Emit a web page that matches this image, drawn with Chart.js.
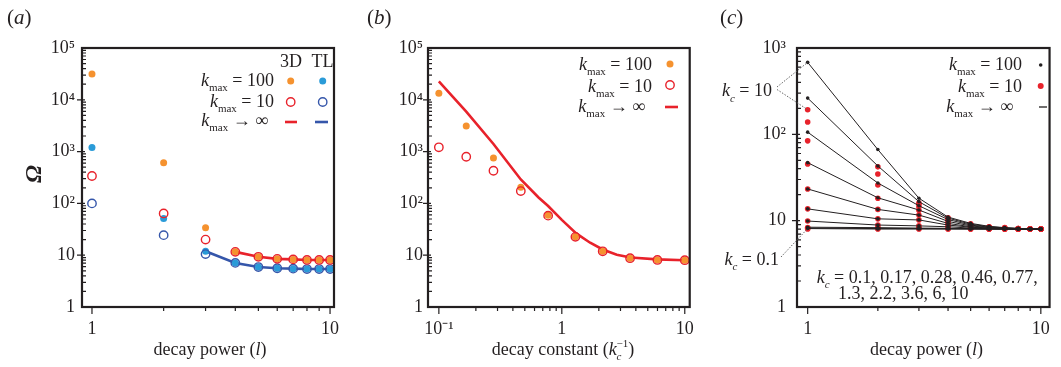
<!DOCTYPE html>
<html>
<head>
<meta charset="utf-8">
<script src="https://cdn.jsdelivr.net/npm/chart.js@4.4.0/dist/chart.umd.min.js"></script>
<style>
body{margin:0;background:#fff;width:1061px;height:367px;position:relative;overflow:hidden}
canvas{position:absolute;top:0}
</style>
</head>
<body>
<canvas id="chartA" width="360" height="367" style="left:0"></canvas>
<canvas id="chartB" width="345" height="367" style="left:360px"></canvas>
<canvas id="chartC" width="356" height="367" style="left:705px"></canvas>
<script>
// (a) omega vs decay power l
const powerL = [1, 2, 3, 4, 5, 6, 7, 8, 9, 10];
const a3d100 = [31600, 610, 34, 11.6, 9.3, 8.5, 8.3, 8.1, 8.1, 8.1];
const a3d10 = [338, 64, 20, 11.6, 9.3, 8.5, 8.3, 8.1, 8.1, 8.1];
const aTL100 = [1200, 51, 11.9, 7.1, 5.9, 5.6, 5.5, 5.4, 5.4, 5.4];
const aTL10 = [100, 24.4, 10.5, 7.1, 5.9, 5.6, 5.5, 5.4, 5.4, 5.4];
const a3dInfL = [4, 5, 6, 7, 8, 9, 10];
const a3dInf = [11.6, 9.3, 8.5, 8.3, 8.1, 8.1, 8.1];
const aTLInfL = [3, 4, 5, 6, 7, 8, 9, 10];
const aTLInf = [11.9, 7.1, 5.9, 5.6, 5.5, 5.4, 5.4, 5.4];

// (b) omega vs decay constant kc^-1
const bInvKc = [0.1, 0.167, 0.278, 0.464, 0.774, 1.29, 2.15, 3.59, 5.99, 10];
const b100 = [13400, 3130, 752, 204, 59, 22.6, 11.9, 8.75, 8.1, 8.0];
const b10 = [1210, 796, 427, 173, 58, 22.6, 11.9, 8.75, 8.1, 8.0];
const bCurveX = [0.1, 0.167, 0.278, 0.464, 0.647, 0.774, 1.0, 1.31, 1.7, 2.15, 2.8, 3.63, 5.96, 10];
const bCurveY = [22600, 5900, 1400, 290, 130, 89, 48, 26.3, 17.4, 12.9, 10.2, 9.0, 8.3, 8.0];

// (c) one line per kc, kmax -> inf (line) / 100 (black) / 10 (red)
const kcLabels = ['0.1', '0.17', '0.28', '0.46', '0.77', '1.3', '2.2', '3.6', '6', '10'];
const c100_0p1 = [8.1, 8.0, 8.0, 8.0, 8.0, 8.0, 8.0, 8.0, 8.0, 8.0];
const c100_0p17 = [8.2, 8.1, 8.1, 8.05, 8.0, 8.0, 8.0, 8.0, 8.0, 8.0];
const c100_0p28 = [8.4, 8.3, 8.2, 8.15, 8.1, 8.0, 8.0, 8.0, 8.0, 8.0];
const c100_0p46 = [9.9, 8.9, 8.7, 8.5, 8.2, 8.1, 8.0, 8.0, 8.0, 8.0];
const c100_0p77 = [13.7, 10.5, 10.2, 8.9, 8.4, 8.15, 8.05, 8.0, 8.0, 8.0];
const c100_1p3 = [23.3, 13.5, 11.6, 9.3, 8.5, 8.2, 8.1, 8.0, 8.0, 8.0];
const c100_2p2 = [47, 18.4, 13.3, 9.8, 8.7, 8.3, 8.15, 8.05, 8.0, 8.0];
const c100_3p6 = [106, 27.3, 14.9, 10.3, 8.9, 8.4, 8.2, 8.1, 8.0, 8.0];
const c100_6 = [263, 43, 16.6, 10.7, 9.1, 8.5, 8.25, 8.1, 8.05, 8.0];
const c100_10 = [682, 66.6, 18.2, 11.0, 9.3, 8.6, 8.3, 8.15, 8.05, 8.0];
const c10_0p1 = [8.0, 8.0, 8.0, 8.0, 8.0, 8.0, 8.0, 8.0, 8.0, 8.0];
const c10_0p17 = [8.2, 8.1, 8.1, 8.05, 8.0, 8.0, 8.0, 8.0, 8.0, 8.0];
const c10_0p28 = [8.3, 8.3, 8.2, 8.15, 8.1, 8.0, 8.0, 8.0, 8.0, 8.0];
const c10_0p46 = [9.9, 8.9, 8.7, 8.5, 8.2, 8.1, 8.0, 8.0, 8.0, 8.0];
const c10_0p77 = [13.7, 10.5, 10.2, 8.9, 8.4, 8.15, 8.05, 8.0, 8.0, 8.0];
const c10_1p3 = [23.3, 13.5, 11.6, 9.3, 8.5, 8.2, 8.1, 8.0, 8.0, 8.0];
const c10_2p2 = [45.4, 18.2, 13.2, 9.8, 8.7, 8.3, 8.15, 8.05, 8.0, 8.0];
const c10_3p6 = [84, 25.9, 14.5, 10.2, 8.9, 8.4, 8.2, 8.1, 8.0, 8.0];
const c10_6 = [139, 34.7, 15.5, 10.5, 9.0, 8.45, 8.2, 8.1, 8.0, 8.0];
const c10_10 = [193, 42, 16.0, 10.8, 9.2, 8.5, 8.3, 8.1, 8.05, 8.0];

// major ticks (minor ones 2..9 are filled in between)
const yMajorsAB = [1, 10, 100, 1000, 10000, 100000];
const yMajorsC = [1, 10, 100, 1000];
const xMajorsL = [1, 10];
const xMajorsB = [0.1, 1, 10];

const SERIF = '"Liberation Serif", "Times New Roman", serif';
const INK = '#231f20';
const ORANGE = '#f5922f';
const BLUE = '#2a9bd8';
const RED = '#e8222b';
const NAVY = '#3556aa';

const supChars = {'-': '⁻', '0': '⁰', '1': '¹', '2': '²', '3': '³', '4': '⁴', '5': '⁵'};
function powLabel(v){
    const e = Math.round(Math.log10(v));
    if (Math.abs(Math.log10(v) - e) > 1e-6) return '';
    if (e === 0) return '1';
    if (e === 1) return '10';
    return '10' + String(e).split('').map(c => supChars[c]).join('');
}

function setTicks(scale, majors){
    const t = [];
    majors.forEach((v, i) => {
        t.push({value: v, major: true});
        if (i < majors.length - 1) for (let m = 2; m < 10; m++) t.push({value: m * v, major: false});
    });
    scale.ticks = t;
}

function pts(xs, ys){ return xs.map((x, i) => ({x: x, y: ys[i]})); }

function dots(label, xs, ys, color, r, open, order){
    return {label, data: pts(xs, ys), showLine: false, order,
        pointRadius: r, pointHoverRadius: r,
        pointBackgroundColor: open ? 'rgba(0,0,0,0)' : color,
        pointBorderColor: color, pointBorderWidth: open ? 1.4 : 0};
}

function curve(label, xs, ys, color, w, order, pr){
    return {label, data: pts(xs, ys), showLine: true, order, borderColor: color, borderWidth: w,
        pointRadius: pr || 0, pointBackgroundColor: color, pointBorderWidth: 0, tension: 0};
}

function axes(o){
    const tickFont = {family: SERIF, size: 18};
    return {
        responsive: false, animation: false, events: [],
        layout: {padding: {top: 48, right: o.padR, left: 0, bottom: 0}},
        plugins: {legend: {display: false}, tooltip: {enabled: false}},
        scales: {
            x: {type: 'logarithmic', min: o.xMin, max: o.xMax,
                grid: {display: false, drawTicks: false}, border: {display: false},
                afterBuildTicks: s => setTicks(s, o.xMajors),
                afterFit: s => { s.height = 60; },
                ticks: {autoSkip: false, maxRotation: 0, minRotation: 0, padding: 11, color: INK, font: tickFont,
                    callback: (v, i, t) => t[i].major ? powLabel(v) : ''}},
            y: {type: 'logarithmic', min: o.yMin, max: o.yMax,
                grid: {display: false, drawTicks: false}, border: {display: false},
                afterBuildTicks: s => setTicks(s, o.yMajors),
                afterFit: s => { s.width = o.yW; },
                ticks: {autoSkip: false, padding: o.yPad, color: INK, font: tickFont,
                    callback: (v, i, t) => t[i].major ? powLabel(v) : ''}}
        }
    };
}

// box round the plot + small tick marks
const framePlugin = {
    id: 'frame',
    afterDraw(chart){
        const ctx = chart.ctx, ca = chart.chartArea;
        ctx.save();
        ctx.strokeStyle = INK;
        ctx.lineWidth = 1.2;
        ctx.beginPath();
        chart.scales.x.ticks.forEach(t => {
            const px = chart.scales.x.getPixelForValue(t.value);
            if (px < ca.left + 2 || px > ca.right - 2) return;
            ctx.moveTo(px, ca.bottom);
            ctx.lineTo(px, ca.bottom + (t.major ? 7 : 4));
        });
        chart.scales.y.ticks.forEach(t => {
            const py = chart.scales.y.getPixelForValue(t.value);
            if (py < ca.top + 2 || py > ca.bottom - 2) return;
            ctx.moveTo(ca.left - (t.major ? 5 : 0), py);
            ctx.lineTo(ca.left + (t.major ? 3 : 4), py);
        });
        ctx.stroke();
        ctx.lineWidth = 2.2;
        ctx.strokeRect(ca.left, ca.top, ca.right - ca.left, ca.bottom - ca.top);
        ctx.restore();
    }
};

// text with italic / sub / sup pieces
function fontOf(p, size){
    const s = (p.sub || p.sup) ? Math.round(size * 0.62) : size;
    return (p.i ? 'italic ' : '') + (p.b ? 'bold ' : '') + s + 'px ' + SERIF;
}
function rich(ctx, x, y, parts, align, size){
    size = size || 18;
    let cx = 0, prevStart = 0, prevEnd = 0;
    parts.forEach(p => {
        ctx.font = fontOf(p, size);
        p.w = ctx.measureText(p.t).width;
        if (p.over) { p.x = prevStart; cx = Math.max(prevEnd, prevStart + p.w); }
        else { p.x = cx; cx += p.w; }
        prevStart = p.x; prevEnd = cx;
    });
    const x0 = align === 'right' ? x - cx : align === 'center' ? x - cx / 2 : x;
    ctx.textAlign = 'left';
    ctx.textBaseline = 'middle';
    ctx.fillStyle = INK;
    parts.forEach(p => {
        ctx.font = fontOf(p, size);
        const dy = p.sub ? size * 0.4 : p.sup ? -size * 0.33 : 0;
        ctx.fillText(p.t, x0 + p.x, y + dy);
    });
}
function kmax(rest){ return [{t: 'k', i: 1}, {t: 'max', sub: 1}, {t: rest}]; }
function kc(rest){ return [{t: 'k', i: 1}, {t: 'c', i: 1, sub: 1}, {t: rest}]; }

function disc(ctx, x, y, r, c){ ctx.beginPath(); ctx.arc(x, y, r, 0, 2 * Math.PI); ctx.fillStyle = c; ctx.fill(); }
function ring(ctx, x, y, r, c){ ctx.beginPath(); ctx.arc(x, y, r, 0, 2 * Math.PI); ctx.strokeStyle = c; ctx.lineWidth = 1.4; ctx.stroke(); }
function dash(ctx, x1, x2, y, c, w){ ctx.beginPath(); ctx.moveTo(x1, y); ctx.lineTo(x2, y); ctx.strokeStyle = c; ctx.lineWidth = w; ctx.stroke(); }

// ---------- (a) ----------
new Chart('chartA', {
    type: 'scatter',
    data: {datasets: [
        dots('3D kmax=10', powerL, a3d10, RED, 4.2, true, 0),
        dots('TL kmax=10', powerL, aTL10, NAVY, 4.2, true, 0),
        dots('3D kmax=100', powerL, a3d100, ORANGE, 3.5, false, 1),
        dots('TL kmax=100', powerL, aTL100, BLUE, 3.5, false, 1),
        curve('3D kmax->inf', a3dInfL, a3dInf, RED, 2.6, 2),
        curve('TL kmax->inf', aTLInfL, aTLInf, NAVY, 2.6, 2)
    ]},
    options: axes({padR: 26, yW: 82, yPad: 7, xMin: 0.908, xMax: 10.39, yMin: 1, yMax: 100000,
        xMajors: xMajorsL, yMajors: yMajorsAB}),
    plugins: [framePlugin, {id: 'textA', afterDraw(chart){
        const ctx = chart.ctx;
        ctx.save();
        rich(ctx, 7, 18, [{t: '('}, {t: 'a', i: 1}, {t: ')'}], 'left', 21);
        rich(ctx, 210, 350, [{t: 'decay power ('}, {t: 'l', i: 1}, {t: ')'}], 'center');
        rich(ctx, 291, 62, [{t: '3D'}], 'center');
        rich(ctx, 322.5, 62, [{t: 'TL'}], 'center');
        rich(ctx, 274, 81, kmax(' = 100'), 'right');
        rich(ctx, 274, 102, kmax(' = 10'), 'right');
        rich(ctx, 268, 121, kmax(' → ∞'), 'right');
        disc(ctx, 290.7, 81, 3.5, ORANGE); disc(ctx, 322.7, 81, 3.5, BLUE);
        ring(ctx, 290.7, 102, 4.2, RED); ring(ctx, 322.7, 102, 4.2, NAVY);
        dash(ctx, 285, 297, 122, RED, 2.6); dash(ctx, 315, 328, 122, NAVY, 2.6);
        ctx.translate(35, 174);
        ctx.rotate(-Math.PI / 2);
        rich(ctx, 0, 0, [{t: 'Ω', i: 1, b: 1}], 'center', 24);
        ctx.restore();
    }}]
});

// ---------- (b) ----------
new Chart('chartB', {
    type: 'scatter',
    data: {datasets: [
        dots('kmax=10', bInvKc, b10, RED, 4.2, true, 0),
        dots('kmax=100', bInvKc, b100, ORANGE, 3.5, false, 1),
        curve('kmax->inf', bCurveX, bCurveY, RED, 2.6, 2)
    ]},
    options: axes({padR: 12, yW: 68, yPad: 5, xMin: 0.0816, xMax: 10.97, yMin: 1, yMax: 100000,
        xMajors: xMajorsB, yMajors: yMajorsAB}),
    plugins: [framePlugin, {id: 'textB', afterDraw(chart){
        const ctx = chart.ctx;
        ctx.save();
        rich(ctx, 7, 18, [{t: '('}, {t: 'b', i: 1}, {t: ')'}], 'left', 21);
        rich(ctx, 203, 350, [{t: 'decay constant ('}, {t: 'k', i: 1}, {t: 'c', i: 1, sub: 1}, {t: '−1', sup: 1, over: 1}, {t: ')'}], 'center');
        rich(ctx, 292, 65, kmax(' = 100'), 'right');
        rich(ctx, 292, 87, kmax(' = 10'), 'right');
        rich(ctx, 285, 107, kmax(' → ∞'), 'right');
        disc(ctx, 310, 64, 3.5, ORANGE);
        ring(ctx, 310, 85, 4.2, RED);
        dash(ctx, 305, 318, 107, RED, 2.6);
        ctx.restore();
    }}]
});

// ---------- (c) ----------
const cLines = [c100_0p1, c100_0p17, c100_0p28, c100_0p46, c100_0p77, c100_1p3, c100_2p2, c100_3p6, c100_6, c100_10];
const cReds = [c10_0p1, c10_0p17, c10_0p28, c10_0p46, c10_0p77, c10_1p3, c10_2p2, c10_3p6, c10_6, c10_10];
const cSets = [];
cLines.forEach((ys, i) => cSets.push(curve('kc=' + kcLabels[i], powerL, ys, INK, 1, 1, 1.8)));
cReds.forEach((ys, i) => cSets.push(dots('kc=' + kcLabels[i] + ' kmax=10', powerL, ys, RED, 2.8, false, 2)));

new Chart('chartC', {
    type: 'scatter',
    data: {datasets: cSets},
    options: axes({padR: 5, yW: 92, yPad: 11, xMin: 0.9, xMax: 10.9, yMin: 1, yMax: 1000,
        xMajors: xMajorsL, yMajors: yMajorsC}),
    plugins: [framePlugin, {id: 'textC', afterDraw(chart){
        const ctx = chart.ctx, xs = chart.scales.x, ys = chart.scales.y;
        ctx.save();
        rich(ctx, 15, 18, [{t: '('}, {t: 'c', i: 1}, {t: ')'}], 'left', 21);
        rich(ctx, 221.5, 350, [{t: 'decay power ('}, {t: 'l', i: 1}, {t: ')'}], 'center');
        rich(ctx, 317, 65, kmax(' = 100'), 'right');
        rich(ctx, 317, 87, kmax(' = 10'), 'right');
        rich(ctx, 308, 107, kmax(' → ∞'), 'right');
        disc(ctx, 335.7, 65, 1.8, INK);
        disc(ctx, 335.7, 86, 3, RED);
        dash(ctx, 334, 342, 107, INK, 1.3);
        rich(ctx, 111.7, 278, kc(' = ' + kcLabels.slice(0, 5).join(', ') + ','), 'left');
        rich(ctx, 133, 294, [{t: kcLabels.slice(5).join(', ')}], 'left');
        rich(ctx, 67, 91.7, kc(' = 10'), 'right');
        rich(ctx, 74, 260, kc(' = 0.1'), 'right');
        // dotted pointers to the kc = 10 and kc = 0.1 points
        const x1 = xs.getPixelForValue(powerL[0]);
        ctx.setLineDash([1.5, 1.5]);
        ctx.strokeStyle = '#666';
        ctx.lineWidth = 1;
        ctx.beginPath();
        ctx.moveTo(72, 87); ctx.lineTo(x1, ys.getPixelForValue(c100_10[0]));
        ctx.moveTo(72, 89.5); ctx.lineTo(x1, ys.getPixelForValue(c10_10[0]));
        ctx.moveTo(76, 257); ctx.lineTo(x1, ys.getPixelForValue(c100_0p1[0]));
        ctx.stroke();
        ctx.restore();
    }}]
});
</script>
</body>
</html>
